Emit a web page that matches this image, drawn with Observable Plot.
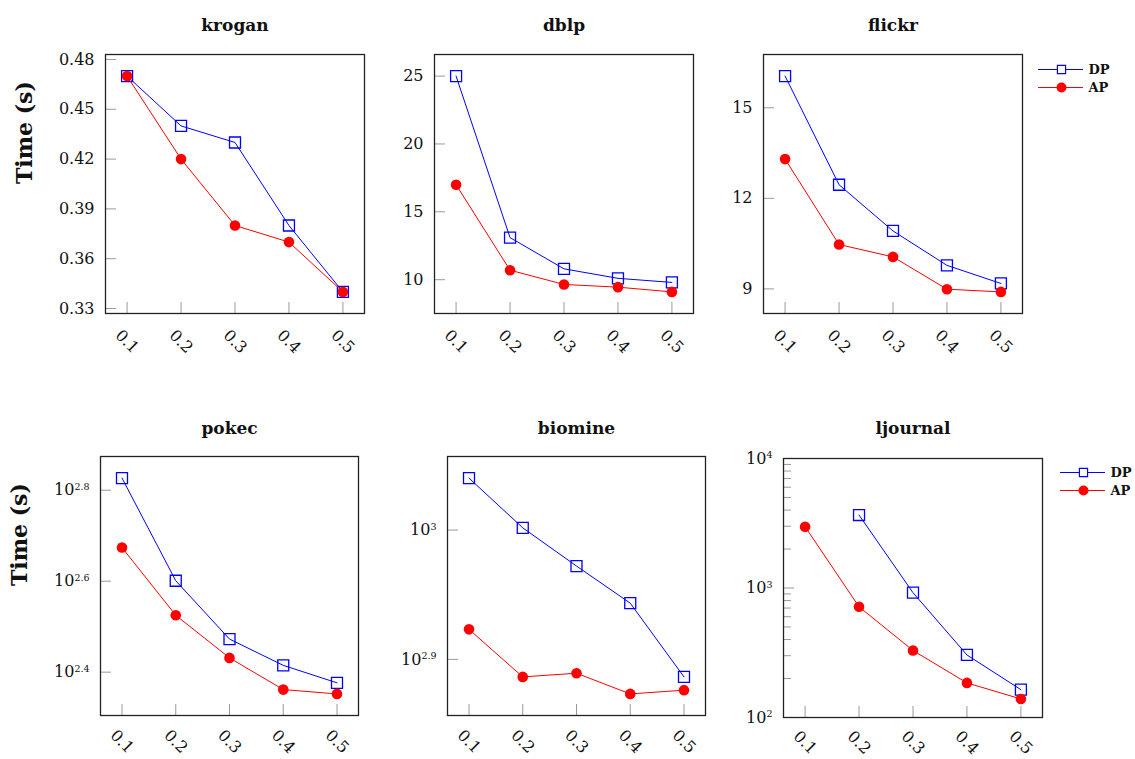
<!DOCTYPE html>
<html><head><meta charset="utf-8">
<script src="https://cdn.jsdelivr.net/npm/d3@7"></script>
<script src="https://cdn.jsdelivr.net/npm/@observablehq/plot@0.6"></script>
<style>
html,body{margin:0;padding:0;background:#fff;}
#wrap{position:relative;width:1135px;height:759px;overflow:hidden;font-family:"DejaVu Serif",serif;}
#wrap > svg{position:absolute;}
</style></head>
<body><div id="wrap"></div>
<script>
// ---------- data ----------
const ratios = [0.1, 0.2, 0.3, 0.4, 0.5];
const seriesNames = ["DP", "AP"];
const seriesColors = ["#0000ff", "#ff0000"];

const kroganDP = [0.47, 0.44, 0.43, 0.38, 0.34];
const kroganAP = [0.47, 0.42, 0.38, 0.37, 0.34];
const dblpDP = [25, 13.1, 10.8, 10.1, 9.8];
const dblpAP = [17, 10.7, 9.65, 9.45, 9.1];
const flickrDP = [16.05, 12.45, 10.92, 9.78, 9.18];
const flickrAP = [13.3, 10.47, 10.06, 8.99, 8.9];
const pokecDP = [671, 399, 297, 260, 238];
const pokecAP = [472, 335, 270, 230, 225];
const biomineDP = [1097, 1004, 938, 878, 770];
const biomineAP = [838, 770, 775, 747, 752];
const ljournalDP = [null, 3660, 920, 304, 164];
const ljournalAP = [2970, 716, 329, 185, 139];

const kroganTicks = [0.33, 0.36, 0.39, 0.42, 0.45, 0.48];
const dblpTicks = [10, 15, 20, 25];
const flickrTicks = [9, 12, 15];
const pokecTickExps = [2.4, 2.6, 2.8];
const biomineTickExps = [2.9, 3];
const ljournalTickExps = [2, 3, 4];
const ljournalMinor = [200, 300, 400, 500, 600, 700, 800, 900, 2000, 3000, 4000, 5000, 6000, 7000, 8000, 9000];

// ---------- helpers ----------
const FONT = "DejaVu Serif";
const TICK = "#9a9a9a";
const wrap = document.getElementById("wrap");

function enlarge(vals, log) {
  const v = vals.filter(d => d != null).map(d => log ? Math.log10(d) : d);
  const lo = Math.min(...v), hi = Math.max(...v), e = (hi - lo) * 0.1;
  return log ? [10 ** (lo - e), 10 ** (hi + e)] : [lo - e, hi + e];
}

function superscript(svg) {
  const NS = "http://www.w3.org/2000/svg";
  svg.querySelectorAll('[aria-label="y-axis tick label"] text').forEach(t => {
    const s = t.textContent;
    if (!s.includes("^")) return;
    const [base, exp] = s.split("^");
    t.textContent = "";
    const a = document.createElementNS(NS, "tspan"); a.textContent = base; t.appendChild(a);
    const b = document.createElementNS(NS, "tspan");
    b.setAttribute("dy", "-0.55em"); b.setAttribute("font-size", "9.5px");
    b.textContent = exp; t.appendChild(b);
  });
}

function panel(p) {
  const frameW = p.w - p.ml - p.mr, frameH = p.h - p.mt - p.mb;
  const rows = ratios.map((r, i) => ({ratio: r, dp: p.dp[i], ap: p.ap[i]}));
  const marks = [
    Plot.tickY(p.ticks, {y: d => d, stroke: TICK, strokeWidth: 1, insetRight: frameW - 11}),
    Plot.tickX(ratios, {x: d => d, stroke: TICK, strokeWidth: 1, insetTop: frameH - 11}),
    Plot.axisY(p.ticks, {tickSize: 0, tickPadding: 11, tickFormat: p.fmt, fontSize: 16, label: null}),
    Plot.axisX(ratios, {tickSize: 0, tickRotate: 45, textAnchor: "middle", lineAnchor: "middle",
      tickPadding: p.xPad, tickFormat: d => d.toFixed(1), fontSize: 16, label: null}),
    Plot.line(rows, {x: "ratio", y: "dp", stroke: seriesColors[0], strokeWidth: 1}),
    Plot.dot(rows.filter(d => d.dp != null), {x: "ratio", y: "dp", symbol: "square", r: 6.2, stroke: seriesColors[0], strokeWidth: 1.3, fill: "none"}),
    Plot.line(rows, {x: "ratio", y: "ap", stroke: seriesColors[1], strokeWidth: 1}),
    Plot.dot(rows, {x: "ratio", y: "ap", r: 5.3, fill: seriesColors[1], stroke: "none"}),
    Plot.frame({stroke: "#222", strokeWidth: 1.3}),
    Plot.text([p.title], {frameAnchor: "top", dy: p.titleDy, fontWeight: "bold", fontSize: 17, fill: "#111"})
  ];
  if (p.minor) marks.unshift(Plot.tickY(p.minor, {y: d => d, stroke: TICK, strokeWidth: 1, insetRight: frameW - 8}));
  if (p.ylabel) marks.push(Plot.text(["Time (s)"], {frameAnchor: "left", dx: p.ylabelX - p.ml, rotate: -90, fontWeight: "bold", fontSize: 22, fill: "#111"}));
  const svg = Plot.plot({
    width: p.w, height: p.h,
    marginLeft: p.ml, marginRight: p.mr, marginTop: p.mt, marginBottom: p.mb,
    style: {fontFamily: FONT, background: "transparent", overflow: "visible", color: "#111"},
    x: {type: "linear", domain: [0.06, 0.54], axis: null},
    y: {type: p.type, domain: p.domain, axis: null},
    marks
  });
  superscript(svg);
  svg.style.left = p.left + "px"; svg.style.top = p.top + "px";
  wrap.appendChild(svg);
}

function legend(left, top) {
  const svg = Plot.plot({
    width: 95, height: 40, margin: 0,
    style: {fontFamily: FONT, background: "transparent", overflow: "visible"},
    x: {domain: [0, 95], range: [0, 95], axis: null},
    y: {type: "point", domain: seriesNames, range: [11, 29], padding: 0, axis: null},
    color: {domain: seriesNames, range: seriesColors},
    marks: [
      Plot.ruleY(seriesNames, {y: d => d, x1: 3, x2: 48, stroke: d => d, strokeWidth: 1.2}),
      Plot.dot(["DP"], {x: 26, y: d => d, symbol: "square", r: 4.6, stroke: d => d, fill: "white", strokeWidth: 1.2}),
      Plot.dot(["AP"], {x: 26, y: d => d, r: 5, fill: d => d}),
      Plot.text(seriesNames, {x: 53, y: d => d, text: d => d, textAnchor: "start", fontWeight: "bold", fontSize: 13, fill: "#111"})
    ]
  });
  svg.style.left = left + "px"; svg.style.top = top + "px";
  wrap.appendChild(svg);
}

const logFmt = d => "10^" + (+Math.log10(d).toFixed(1));

// ---------- panels ----------
panel({title: "krogan", left: 0, top: 0, w: 375, h: 385, ml: 105, mr: 11, mt: 54, mb: 72, titleDy: -36, xPad: 28,
  type: "linear", domain: enlarge([...kroganDP, ...kroganAP]), ticks: kroganTicks, fmt: d => d.toFixed(2),
  dp: kroganDP, ap: kroganAP, ylabel: true, ylabelX: 24});
panel({title: "dblp", left: 375, top: 0, w: 355, h: 385, ml: 59, mr: 37, mt: 54, mb: 72, titleDy: -36, xPad: 28,
  type: "linear", domain: enlarge([...dblpDP, ...dblpAP]), ticks: dblpTicks, fmt: d => String(d),
  dp: dblpDP, ap: dblpAP});
panel({title: "flickr", left: 730, top: 0, w: 405, h: 385, ml: 33, mr: 113, mt: 54, mb: 72, titleDy: -36, xPad: 28,
  type: "linear", domain: enlarge([...flickrDP, ...flickrAP]), ticks: flickrTicks, fmt: d => String(d),
  dp: flickrDP, ap: flickrAP});
panel({title: "pokec", left: 0, top: 390, w: 375, h: 369, ml: 100, mr: 17, mt: 66, mb: 44, titleDy: -35, xPad: 26,
  type: "log", domain: enlarge([...pokecDP, ...pokecAP], true), ticks: pokecTickExps.map(e => 10 ** e), fmt: logFmt,
  dp: pokecDP, ap: pokecAP, ylabel: true, ylabelX: 19});
panel({title: "biomine", left: 375, top: 390, w: 355, h: 369, ml: 72, mr: 25, mt: 66, mb: 44, titleDy: -35, xPad: 26,
  type: "log", domain: enlarge([...biomineDP, ...biomineAP], true), ticks: biomineTickExps.map(e => 10 ** e), fmt: logFmt,
  dp: biomineDP, ap: biomineAP});
panel({title: "ljournal", left: 730, top: 390, w: 405, h: 369, ml: 53, mr: 93, mt: 68, mb: 42, titleDy: -37, xPad: 25,
  type: "log", domain: [100, 10000], ticks: ljournalTickExps.map(e => 10 ** e), fmt: logFmt, minor: ljournalMinor,
  dp: ljournalDP, ap: ljournalAP});

legend(1035, 58);
legend(1057, 461);
</script>
</body></html>
